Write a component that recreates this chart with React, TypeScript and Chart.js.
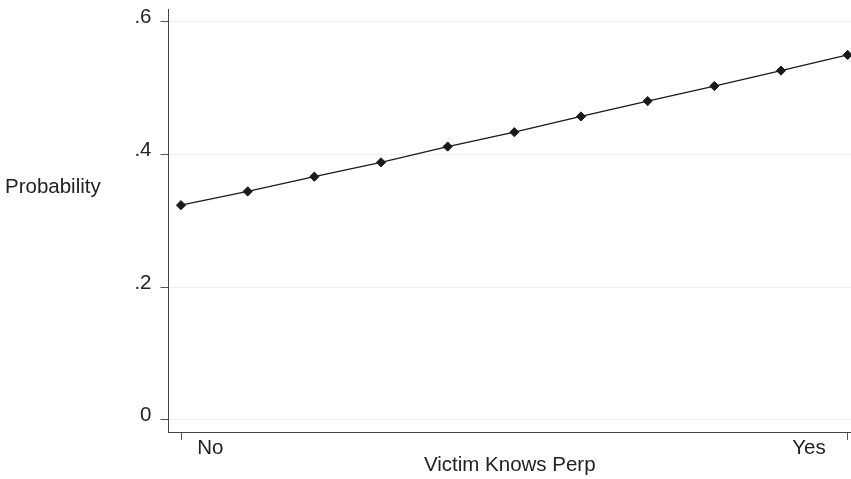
import React, { useEffect, useRef } from "react";
import { Chart, registerables } from "chart.js";

Chart.register(...registerables);

const xValues = [0, 1, 2, 3, 4, 5, 6, 7, 8, 9, 10];
const probability = [0.3235, 0.3441, 0.3664, 0.388, 0.4118, 0.4335, 0.4572, 0.4804, 0.5031, 0.5264, 0.55];
const xTickValues = [0, 10];
const xTickLabels = ["No", "Yes"];
const yTickValues = [0, 0.2, 0.4, 0.6];
const yTickLabels = ["0", ".2", ".4", ".6"];
const yTitle = "Probability";
const xTitle = "Victim Knows Perp";

const FONT = "'Liberation Sans', Arial, Helvetica, sans-serif";
const TEXT = "#222222";

const noPad = (s: any) => {
  s.paddingTop = 0;
  s.paddingBottom = 0;
  s.paddingLeft = 0;
  s.paddingRight = 0;
};

export default function App() {
  const ref = useRef<HTMLCanvasElement | null>(null);

  useEffect(() => {
    if (!ref.current) return;
    const yTitlePlugin = {
      id: "yTitleHorizontal",
      afterDraw(chart: any) {
        const ctx = chart.ctx;
        ctx.save();
        ctx.fillStyle = TEXT;
        ctx.font = `20.5px ${FONT}`;
        ctx.textAlign = "left";
        ctx.textBaseline = "alphabetic";
        ctx.fillText(yTitle, 5, 192.7);
        ctx.restore();
      },
    };

    const chart = new Chart(ref.current, {
      type: "line",
      data: {
        datasets: [
          {
            data: xValues.map((x, i) => ({ x, y: probability[i] })),
            borderColor: "#1a1a1a",
            backgroundColor: "#1a1a1a",
            borderWidth: 1.3,
            pointStyle: "rectRot",
            pointRadius: 4.6,
            pointBorderWidth: 1,
            pointBackgroundColor: "#1a1a1a",
            pointBorderColor: "#1a1a1a",
            tension: 0,
            clip: false as any,
          },
        ],
      },
      options: {
        animation: false,
        responsive: false,
        layout: { autoPadding: false, padding: { top: 9.3, left: 134.5, right: 0, bottom: 3 } },
        plugins: { legend: { display: false }, tooltip: { enabled: false } },
        scales: {
          x: {
            type: "linear",
            position: "bottom",
            weight: 0,
            min: -0.1875,
            max: 10.05,
            afterBuildTicks: (s: any) => {
              s.ticks = xTickValues.map((v) => ({ value: v }));
            },
            afterFit: noPad,
            grid: {
              display: true,
              drawOnChartArea: false,
              drawTicks: true,
              tickLength: 8,
              tickColor: "#555555",
              color: "#555555",
            },
            border: { display: true, color: "#444444", width: 1 },
            ticks: { display: false },
          },
          x2: {
            type: "linear",
            position: "bottom",
            weight: 1,
            min: -0.1875,
            max: 10.05,
            afterBuildTicks: (s: any) => {
              s.ticks = [0.44, 9.42].map((v) => ({ value: v }));
            },
            afterFit: noPad,
            grid: { display: false, drawTicks: false },
            border: { display: false },
            ticks: {
              padding: -2,
              color: TEXT,
              font: { family: FONT, size: 20.5, lineHeight: 1 },
              maxRotation: 0,
              autoSkip: false,
              callback: (_v: any, i: number) => xTickLabels[i],
            },
            title: {
              display: true,
              text: xTitle,
              color: TEXT,
              font: { family: FONT, size: 20.5, lineHeight: 1 },
              padding: { top: -1, bottom: 0 },
            },
          },
          y: {
            type: "linear",
            min: -0.0186,
            max: 0.6188,
            afterBuildTicks: (s: any) => {
              s.ticks = yTickValues.map((v) => ({ value: v }));
            },
            afterFit: (s: any) => {
              s.width = 34;
              noPad(s);
            },
            grid: {
              color: "#efefef",
              lineWidth: 1,
              drawTicks: true,
              tickLength: 8,
              tickColor: "#555555",
            },
            border: { display: true, color: "#444444", width: 1 },
            ticks: {
              padding: 9,
              labelOffset: -4,
              color: TEXT,
              font: { family: FONT, size: 20.5 },
              autoSkip: false,
              callback: (_v: any, i: number) => yTickLabels[i],
            },
          },
        },
      },
      plugins: [yTitlePlugin],
    } as any);

    return () => chart.destroy();
  }, []);

  return (
    <div style={{ position: "fixed", left: 0, top: 0, width: 851, height: 479, background: "#ffffff" }}>
      <canvas ref={ref} width={851} height={479} style={{ display: "block" }} />
    </div>
  );
}
